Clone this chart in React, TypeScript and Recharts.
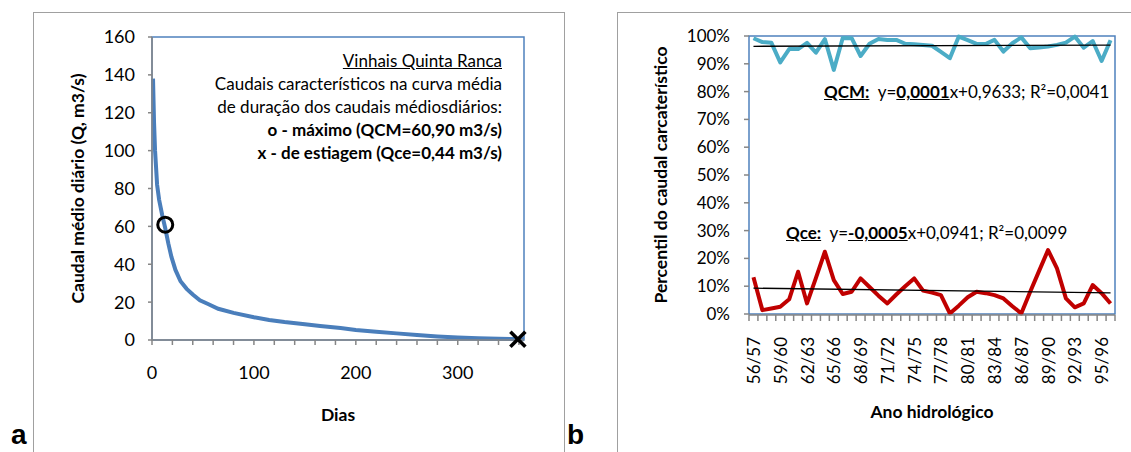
import React from 'react';
import {
  ComposedChart,
  Line,
  XAxis,
  YAxis,
  ReferenceArea,
  ReferenceDot,
  ReferenceLine,
  Label,
} from 'recharts';

const FONTE = 'Lato, "Liberation Sans", Arial, sans-serif';

// a) curva média de duração dos caudais médios diários
const dias = [1, 2, 3, 4, 5, 7, 10, 13, 16, 19, 23, 28, 34, 40, 47, 55, 65, 80, 100, 115, 130, 150, 165, 185, 200, 220, 240, 260, 280, 300, 320, 340, 365];
const caudal = [138, 115, 100, 91, 82, 74, 66, 59, 51, 44, 37, 31, 27, 24, 21, 19, 16.5, 14.3, 12, 10.6, 9.5, 8.3, 7.4, 6.3, 5.3, 4.4, 3.5, 2.7, 1.9, 1.3, 0.9, 0.6, 0.4];
const diasTicks = [0, 20, 40, 60, 80, 100, 120, 140, 160, 180, 200, 220, 240, 260, 280, 300, 320, 340, 360];
const caudalTicks = [0, 20, 40, 60, 80, 100, 120, 140, 160];
const pontoQCM = { dia: 13, q: 60.9 };
const pontoQce = { dia: 359, q: 0.44 };

// b) percentil dos caudais característicos por ano hidrológico
const anos = [
  '56/57', '57/58', '58/59', '59/60', '60/61', '61/62', '62/63', '63/64', '64/65', '65/66',
  '66/67', '67/68', '68/69', '69/70', '70/71', '71/72', '72/73', '73/74', '74/75', '75/76',
  '76/77', '77/78', '78/79', '79/80', '80/81', '81/82', '82/83', '83/84', '84/85', '85/86',
  '86/87', '87/88', '88/89', '89/90', '90/91', '91/92', '92/93', '93/94', '94/95', '95/96', '96/97',
];
const percQCM = [99.2, 97.8, 97.6, 90.5, 95.3, 95.3, 97.5, 94.0, 98.9, 87.8, 99.3, 99.2, 92.8, 97.2, 98.9, 98.6, 98.6, 97.2, 97.0, 96.8, 96.5, 94.3, 92.0, 99.8, 98.5, 97.2, 97.1, 98.6, 94.4, 97.4, 99.5, 95.6, 95.9, 96.2, 96.8, 97.6, 99.8, 95.8, 98.2, 91.0, 98.5];
const percQce = [13.2, 1.4, 2.0, 2.6, 5.3, 15.2, 3.8, 13.0, 22.4, 12.2, 7.2, 8.0, 12.8, 9.7, 6.6, 3.8, 7.0, 10.0, 12.8, 8.4, 7.7, 6.8, 0.2, 3.0, 6.0, 8.0, 7.5, 6.8, 5.6, 2.8, 0.2, 8.0, 15.5, 23.0, 16.4, 5.6, 2.4, 3.8, 10.4, 7.5, 3.8];
const tendQCM = [96.3, 96.7];
const tendQce = [9.3, 7.6];
const percTicks = [0, 10, 20, 30, 40, 50, 60, 70, 80, 90, 100];

const curvaData = dias.map((d, i) => ({ dia: d, q: caudal[i] }));
const serieData = anos.map((a, i) => ({ i, ano: a, qcm: percQCM[i], qce: percQce[i] }));
const marcasAnos = anos.map((_, i) => i - 0.5).concat([anos.length - 0.5]);
const rotulosAnos = anos.map((_, i) => i).filter((i) => i % 3 === 0);
const ultimo = anos.length - 1;

const CINZA = '#868686';
const AZUL_BORDA = '#4f81bd';
const negrito = { fontFamily: FONTE, fontWeight: 700, fontSize: 17.5, fill: '#000' };

const tituloY = (texto: string, dx: number) => (props: any) => {
  const vb = props.viewBox || {};
  const cx = vb.x + dx;
  const cy = vb.y + vb.height / 2;
  return (
    <text x={cx} y={cy} transform={`rotate(-90 ${cx} ${cy})`} textAnchor="middle" dominantBaseline="central" style={negrito}>
      {texto}
    </text>
  );
};

const tituloX = (texto: string, dy: number) => (props: any) => {
  const vb = props.viewBox || {};
  const cx = vb.x + vb.width / 2;
  const cy = vb.y + dy;
  return (
    <text x={cx} y={cy} textAnchor="middle" dominantBaseline="central" style={negrito}>
      {texto}
    </text>
  );
};

const AnoTick = (props: any) => {
  const { x, y, payload } = props;
  const ty = y + 21;
  return (
    <text
      x={x}
      y={ty}
      transform={`rotate(-90 ${x} ${ty})`}
      textAnchor="end"
      dominantBaseline="central"
      style={{ fontFamily: FONTE, fontSize: 17, fill: '#000' }}
    >
      {anos[payload.value]}
    </text>
  );
};

const SemRotulo = () => <g />;

const Circulo = (props: any) => (
  <circle cx={props.cx} cy={props.cy} r={7.5} fill="none" stroke="#000" strokeWidth={3} />
);

const Cruz = (props: any) => {
  const { cx, cy } = props;
  const s = 7.5;
  return (
    <g stroke="#000" strokeWidth={3.5}>
      <line x1={cx - s} y1={cy - s} x2={cx + s} y2={cy + s} />
      <line x1={cx - s} y1={cy + s} x2={cx + s} y2={cy - s} />
    </g>
  );
};

const GraficoA = () => (
  <ComposedChart width={564} height={452} data={curvaData} margin={{ top: 37, right: 40, left: 0, bottom: 0 }}>
    <ReferenceArea x1={0} x2={365} y1={0} y2={160} fill="none" stroke={AZUL_BORDA} strokeWidth={1.5} />
    <XAxis
      dataKey="dia"
      type="number"
      domain={[0, 365]}
      ticks={diasTicks}
      interval={0}
      tickFormatter={(v: number) => (v % 100 === 0 ? String(v) : '')}
      height={112}
      tickSize={5}
      tickMargin={21}
      stroke={CINZA}
      strokeWidth={1.5}
      tick={{ fill: '#000', fontSize: 18, fontFamily: FONTE }}
    >
      <Label content={tituloX('Dias', 74)} />
    </XAxis>
    <YAxis
      type="number"
      domain={[0, 160]}
      ticks={caudalTicks}
      interval={0}
      width={152}
      tickSize={4}
      tickMargin={13}
      stroke={CINZA}
      strokeWidth={1.5}
      tick={{ fill: '#000', fontSize: 18, fontFamily: FONTE }}
    >
      <Label content={tituloY('Caudal médio diário (Q, m3/s)', 77)} />
    </YAxis>
    <Line
      dataKey="q"
      type="linear"
      stroke="#4a7ebb"
      strokeWidth={4}
      dot={false}
      activeDot={false}
      isAnimationActive={false}
    />
    <ReferenceDot x={pontoQCM.dia} y={pontoQCM.q} r={7.5} shape={Circulo} />
    <ReferenceDot x={pontoQce.dia} y={pontoQce.q} r={7.5} shape={Cruz} />
  </ComposedChart>
);

const GraficoB = () => (
  <ComposedChart width={567} height={452} data={serieData} margin={{ top: 36, right: 16, left: 0, bottom: 136 }}>
    <ReferenceArea xAxisId="marcas" x1={-0.5} x2={ultimo + 0.5} y1={0} y2={100} fill="none" stroke={AZUL_BORDA} strokeWidth={1.5} />
    <XAxis
      xAxisId="marcas"
      dataKey="i"
      type="number"
      domain={[-0.5, ultimo + 0.5]}
      ticks={marcasAnos}
      interval={0}
      height={1}
      tick={SemRotulo}
      tickSize={6}
      stroke={CINZA}
      strokeWidth={1.5}
    />
    <XAxis
      xAxisId="anos"
      dataKey="i"
      type="number"
      domain={[-0.5, ultimo + 0.5]}
      ticks={rotulosAnos}
      interval={0}
      height={1}
      axisLine={false}
      tickLine={false}
      tickSize={0}
      tick={AnoTick}
    >
      <Label content={tituloX('Ano hidrológico', 97)} />
    </XAxis>
    <YAxis
      type="number"
      domain={[0, 100]}
      ticks={percTicks}
      interval={0}
      width={185}
      tickSize={5}
      tickMargin={14}
      axisLine={false}
      stroke={CINZA}
      strokeWidth={1.5}
      tickFormatter={(v: number) => `${v}%`}
      tick={{ fill: '#000', fontSize: 17, fontFamily: FONTE }}
    >
      <Label content={tituloY('Percentil do caudal carcaterístico', 96)} />
    </YAxis>
    <Line
      xAxisId="marcas"
      dataKey="qcm"
      type="linear"
      stroke="#4bacc6"
      strokeWidth={4}
      strokeLinejoin="round"
      dot={false}
      activeDot={false}
      isAnimationActive={false}
    />
    <Line
      xAxisId="anos"
      dataKey="qce"
      type="linear"
      stroke="#c00000"
      strokeWidth={4}
      strokeLinejoin="round"
      dot={false}
      activeDot={false}
      isAnimationActive={false}
    />
    <ReferenceLine
      xAxisId="marcas"
      segment={[{ x: 0, y: tendQCM[0] }, { x: ultimo, y: tendQCM[1] }]}
      stroke="#000"
      strokeWidth={1.3}
    />
    <ReferenceLine
      xAxisId="anos"
      segment={[{ x: 0, y: tendQce[0] }, { x: ultimo, y: tendQce[1] }]}
      stroke="#000"
      strokeWidth={1.3}
    />
  </ComposedChart>
);

const abs = (s: React.CSSProperties): React.CSSProperties => ({ position: 'absolute', ...s });
const textoBase: React.CSSProperties = { fontFamily: FONTE, fontSize: 17, color: '#000', whiteSpace: 'nowrap' };
const letra: React.CSSProperties = { fontFamily: '"Liberation Sans", Arial, sans-serif', fontWeight: 700, fontSize: 28, lineHeight: '32px' };

export default function App() {
  return (
    <div style={abs({ left: 0, top: 0, width: 1131, height: 452, overflow: 'hidden', background: '#fff' })}>
      <div style={abs({ left: 33, top: 12, width: 530, height: 460, border: '1.5px solid #a0a0a0' })} />
      <div style={abs({ left: 617, top: 12, width: 560, height: 460, border: '1.5px solid #a0a0a0' })} />
      <div style={abs({ left: 0, top: 0 })}>
        <GraficoA />
      </div>
      <div style={abs({ left: 564, top: 0 })}>
        <GraficoB />
      </div>

      <div style={abs({ ...textoBase, left: 150, top: 49, width: 352, textAlign: 'right', lineHeight: '23px' })}>
        <div style={{ textDecoration: 'underline' }}>Vinhais Quinta Ranca</div>
        <div>Caudais característicos na curva média</div>
        <div>de duração dos caudais médiosdiários:</div>
        <div style={{ fontWeight: 700 }}>o - máximo (QCM=60,90 m3/s)</div>
        <div style={{ fontWeight: 700 }}>x - de estiagem (Qce=0,44 m3/s)</div>
      </div>

      <div style={abs({ ...textoBase, left: 824, top: 81, lineHeight: '21px' })}>
        <b style={{ textDecoration: 'underline' }}>QCM:</b>
        {'\u00a0\u00a0y='}
        <b style={{ textDecoration: 'underline' }}>0,0001</b>
        {'x+0,9633; R²=0,0041'}
      </div>
      <div style={abs({ ...textoBase, left: 786, top: 222, lineHeight: '21px' })}>
        <b style={{ textDecoration: 'underline' }}>Qce:</b>
        {'\u00a0\u00a0y='}
        <b style={{ textDecoration: 'underline' }}>-0,0005</b>
        {'x+0,0941; R²=0,0099'}
      </div>

      <div style={abs({ ...letra, left: 11, top: 419 })}>a</div>
      <div style={abs({ ...letra, left: 567, top: 419 })}>b</div>
    </div>
  );
}
